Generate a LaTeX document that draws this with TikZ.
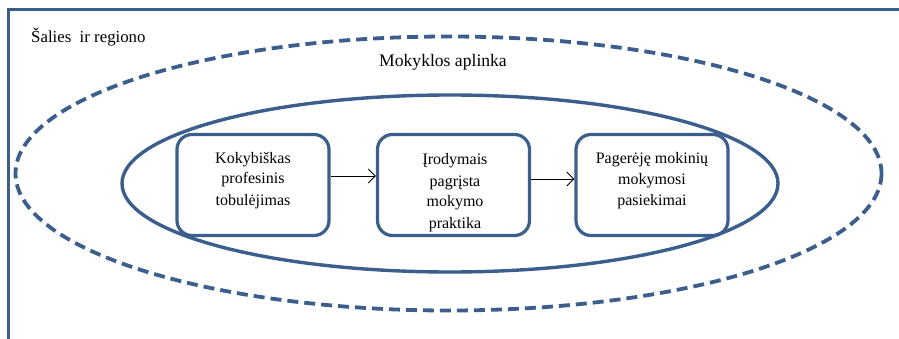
\documentclass[tikz,border=0pt]{standalone}
\usepackage{fontspec}
\setmainfont{Liberation Serif}
\usetikzlibrary{arrows.meta,shapes.geometric}
\definecolor{frameblue}{RGB}{59,94,140}
\begin{document}
\begin{tikzpicture}[x=1pt,y=-1pt,
  stage/.style={draw=frameblue,line width=3.2pt,rounded corners=15pt,
    minimum width=152pt,minimum height=101pt,inner sep=0pt},
  stagetext/.style={align=center,anchor=base,inner sep=0pt,
    font=\fontsize{16}{21}\selectfont},
  flow/.style={-{Straight Barb[length=7pt,width=14pt]},line width=0.9pt,black},
  label/.style={inner sep=0pt}]
\useasboundingbox (0,0) rectangle (899,339);
% open frame of the country/region level
\draw[frameblue,line width=3pt] (899,10) -- (8,10) -- (8,339);
\node[label,anchor=west,font=\fontsize{16.8}{20}\selectfont] (region) at (31,37) {Šalies\ \ ir regiono};
% school environment (dashed) and inner solid ellipse
\draw[frameblue,line width=3.8pt,dash pattern=on 11pt off 6pt] (448.5,173.5) ellipse [x radius=433, y radius=137];
\node[label,font=\fontsize{17.6}{20}\selectfont] (school) at (443,62) {Mokyklos aplinka};
\draw[frameblue,line width=3.4pt] (450,183.5) ellipse [x radius=328, y radius=88.5];
% stages (text anchored at the baseline of its last line)
\node[stage] (prof) at (253,185) {};
\node[stage] (prac) at (453.5,185) {};
\node[stage] (ach) at (652,185) {};
\node[stagetext] (proftext) at (253,205) {Kokybiškas\\profesinis\\tobulėjimas};
\node[stagetext] (practext) at (455,228) {Įrodymais\\pagrįsta\\mokymo\\praktika};
\node[stagetext] (achtext) at (652,206) {Pagerėję mokinių\\mokymosi\\pasiekimai};
\draw[flow] (prof.east |- 0,176) -- (prac.west |- 0,176);
\draw[flow] (prac.east |- 0,179) -- (ach.west |- 0,179);
\end{tikzpicture}
\end{document}
